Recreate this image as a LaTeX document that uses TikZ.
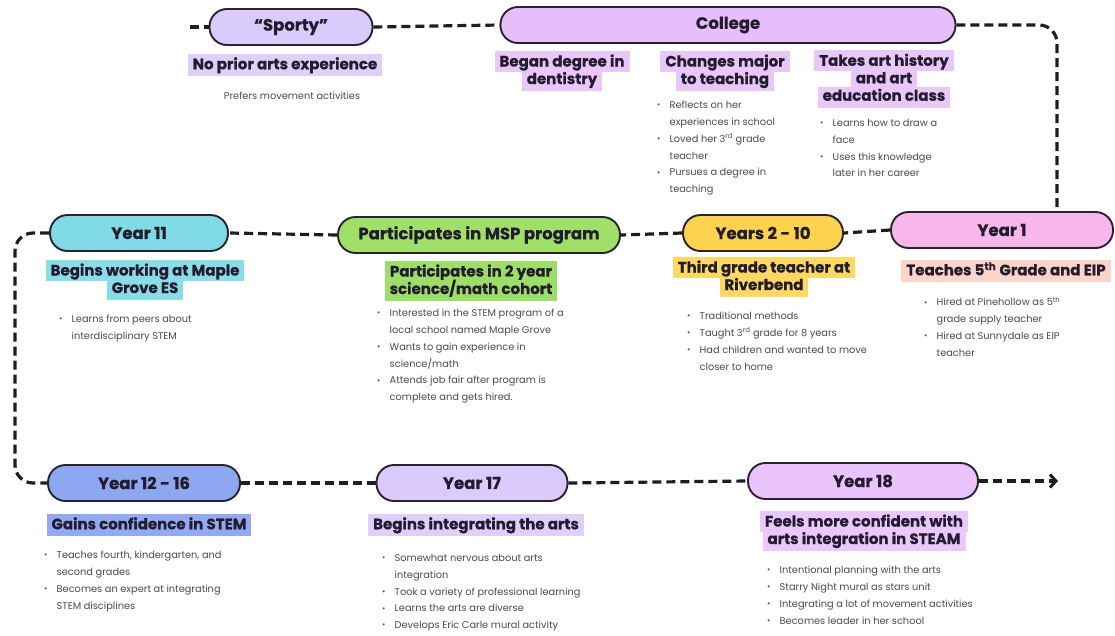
\documentclass[tikz,border=0pt]{standalone}
\usepackage{fontspec}
\setmainfont{Poppins}[BoldFeatures={FakeBold=0.6}]
\usetikzlibrary{arrows.meta}

% palette
\definecolor{ink}{HTML}{231C2E}
\definecolor{edge}{HTML}{2A2230}
\definecolor{linec}{HTML}{1E1E1E}
\definecolor{notegray}{HTML}{4A4A4A}
\definecolor{fsporty}{HTML}{D9CBFB}\definecolor{tsporty}{HTML}{DDD0FB}
\definecolor{fcollege}{HTML}{E6BEFB}\definecolor{tcollege}{HTML}{E9C7FB}
\definecolor{fyeleven}{HTML}{80DAE6}\definecolor{tyeleven}{HTML}{8ADDE8}
\definecolor{fmsp}{HTML}{A0E068}\definecolor{tmsp}{HTML}{9CDE68}
\definecolor{fyellow}{HTML}{FCD24F}\definecolor{tyellow}{HTML}{FDD964}
\definecolor{fyone}{HTML}{F7B7EC}\definecolor{tyone}{HTML}{FCD4CA}
\definecolor{fblue}{HTML}{8EA7F1}\definecolor{tblue}{HTML}{93AAF2}
\definecolor{flav}{HTML}{DBCAFC}\definecolor{tlav}{HTML}{DDD1FB}
\definecolor{flilac}{HTML}{EBC3FC}\definecolor{tlilac}{HTML}{EBC8FB}

% highlighted heading lines: colour, extra space above, extra space below, text
\newcommand\hlbox[4]{{\setlength\fboxsep{0pt}\colorbox{#1}{\rule[\dimexpr-5pt-#3\relax]{0pt}{\dimexpr18.5pt+#2+#3\relax}\hspace{5pt}#4\hspace{5pt}}}}
\newcommand\tagS[2]{\hlbox{#1}{2pt}{2pt}{#2}}
\newcommand\tagT[2]{\hlbox{#1}{2pt}{0pt}{#2}}
\newcommand\tagM[2]{\hlbox{#1}{0pt}{0pt}{#2}}
\newcommand\tagB[2]{\hlbox{#1}{0pt}{2pt}{#2}}

% bullet list lines
\newcommand\bi{\makebox[12.5pt][l]{\raisebox{0.8pt}{\fontsize{8}{8}\selectfont\textbullet}}}
\newcommand\bc{\hspace*{12.5pt}}

\AtBeginDocument{\lineskiplimit=-50pt}

\tikzset{
  pill/.style={draw=edge, line width=1.9pt, rounded corners=17.5pt,
    minimum height=36pt, inner sep=0pt, text=ink,
    font=\bfseries\fontsize{16.5}{19}\selectfont},
  tag/.style={inner sep=0pt, align=center, text=ink,
    font=\bfseries\fontsize{15}{17.5}\selectfont},
  note/.style={anchor=north west, inner sep=0pt, align=left, text=notegray,
    font=\fontsize{9.8}{16.8}\selectfont},
  link/.style={draw=linec, line width=3.2pt, dash pattern=on 9pt off 5pt},
}

\begin{document}
\begin{tikzpicture}[x=1pt,y=-1pt]
\useasboundingbox (0,0) rectangle (1115,635);
\fill[white] (0,0) rectangle (1115,635);

% ---------- milestone pills ----------
\node[pill, fill=fsporty, minimum width=163pt] (sporty) at (291,27) {“Sporty”};
\node[pill, fill=fcollege, minimum width=455pt] (college) at (728,25) {College};
\node[pill, fill=fyone, minimum width=222pt] (y1) at (1002,230) {Year 1};
\node[pill, fill=fyellow, minimum width=160pt] (y210) at (763,233) {Years 2 - 10};
\node[pill, fill=fmsp, minimum width=282pt] (msp) at (479,235) {Participates in MSP program};
\node[pill, fill=fyeleven, minimum width=178pt] (y11) at (139,233) {Year 11};
\node[pill, fill=fblue, minimum width=192pt] (y1216) at (144,483) {Year 12 - 16};
\node[pill, fill=flav, minimum width=191pt] (y17) at (472,483) {Year 17};
\node[pill, fill=flilac, minimum width=230pt] (y18) at (863,481) {Year 18};

% ---------- timeline connectors ----------
\coordinate (start) at (190,27);
\coordinate (tr) at (1057,25);
\coordinate (ml) at (15,233);
\coordinate (bl) at (15,483);
\coordinate (finish) at (1058,481);

\draw[link] (start) -- (sporty.west);
\draw[link] (sporty.east) -- (college.west);
\draw[link, rounded corners=18pt] (college.east) -- (tr) -- (tr |- y1.north);
\draw[link] (y1.west) -- (y210.east);
\draw[link] (y210.west) -- (msp.east);
\draw[link] (msp.west) -- (y11.east);
\draw[link, rounded corners=18pt] (y11.west) -- (ml) -- (bl) -- (y1216.west);
\draw[link] (y1216.east) -- (y17.west);
\draw[link] (y17.east) -- (y18.west);
\draw[link, -{Straight Barb[length=6pt,width=13pt,line width=3pt]}] (y18.east) -- (finish);

% ---------- headings ----------
\node[tag] (tsp) at (285,65) {\tagS{tsporty}{No prior arts experience}};
\node[tag] (tdent) at (562,71) {\tagT{tcollege}{Began degree in}\\\tagB{tcollege}{dentistry}};
\node[tag] (tmajor) at (725,71) {\tagT{tcollege}{Changes major}\\\tagB{tcollege}{to teaching}};
\node[tag] (tart) at (884,79) {\tagT{tcollege}{Takes art history}\\\tagM{tcollege}{and art}\\\tagB{tcollege}{education class}};
\node[tag] (tmaple) at (145,280) {\tagT{tyeleven}{Begins working at Maple}\\\tagB{tyeleven}{Grove ES}};
\node[tag] (tcohort) at (471,281) {\tagT{tmsp}{Participates in 2 year}\\\tagB{tmsp}{science/math cohort}};
\node[tag] (triver) at (764,277) {\tagT{tyellow}{Third grade teacher at}\\\tagB{tyellow}{Riverbend}};
\node[tag] (teip) at (1006,271) {\tagS{tyone}{Teaches 5\textsuperscript{th} Grade and EIP}};
\node[tag] (tstem) at (149,525) {\tagS{tblue}{Gains confidence in STEM}};
\node[tag] (tarts) at (476,525) {\tagS{tlav}{Begins integrating the arts}};
\node[tag] (tsteam) at (864,531) {\tagT{tlilac}{Feels more confident with}\\\tagB{tlilac}{arts integration in STEAM}};

% ---------- notes ----------
\node[note, anchor=center] (nsp) at (292,96) {Prefers movement activities};
\node[note] (nmajor) at (657,101) {\bi Reflects on her\\\bc experiences in school\\\bi Loved her 3\textsuperscript{rd} grade\\\bc teacher\\\bi Pursues a degree in\\\bc teaching};
\node[note] (nart) at (820,119) {\bi Learns how to draw a\\\bc face\\\bi Uses this knowledge\\\bc later in her career};
\node[note] (nmaple) at (59,315) {\bi Learns from peers about\\\bc interdisciplinary STEM};
\node[note] (ncohort) at (377,309) {\bi Interested in the STEM program of a\\\bc local school named Maple Grove\\\bi Wants to gain experience in\\\bc science/math\\\bi Attends job fair after program is\\\bc complete and gets hired.};
\node[note] (nriver) at (687,312) {\bi Traditional methods\\\bi Taught 3\textsuperscript{rd} grade for 8 years\\\bi Had children and wanted to move\\\bc closer to home};
\node[note] (neip) at (924,297) {\bi Hired at Pinehollow  as 5\textsuperscript{th}\\\bc grade supply teacher\\\bi Hired at Sunnydale as EIP\\\bc teacher};
\node[note] (nstem) at (44,551) {\bi Teaches fourth, kindergarten, and\\\bc second grades\\\bi Becomes an expert at integrating\\\bc STEM disciplines};
\node[note] (narts) at (382,554) {\bi Somewhat nervous about arts\\\bc integration\\\bi Took a variety of professional learning\\\bi Learns the arts are diverse\\\bi Develops Eric Carle mural activity};
\node[note] (nsteam) at (767,566) {\bi Intentional planning with the arts\\\bi Starry Night mural as stars unit\\\bi Integrating a lot of movement activities\\\bi Becomes leader in her school};
\end{tikzpicture}
\end{document}
